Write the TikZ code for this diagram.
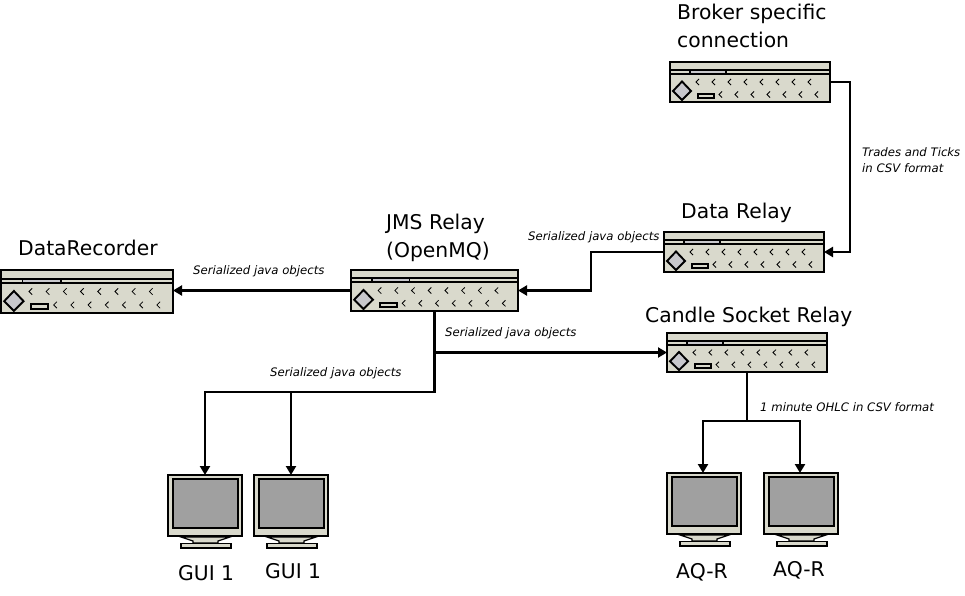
\documentclass[tikz,border=0pt]{standalone}
\usepackage{fontspec}
\setmainfont{DejaVu Sans}
\usetikzlibrary{arrows.meta}
\definecolor{devfill}{HTML}{D9D9CC}
\definecolor{devgrey}{HTML}{C8C8CC}
\definecolor{screengrey}{HTML}{A0A0A0}
\tikzset{
  x=1pt,y=-1pt,
  devbox/.style={draw=black,line width=2.2pt,fill=devfill,inner sep=0pt,outer sep=0pt,rectangle},
  monbox/.style={draw=black,line width=2.2pt,fill=devfill,inner sep=0pt,outer sep=0pt,rectangle,minimum width=74pt,minimum height=61pt},
  part/.style={draw=black,line width=1.9pt},
  chev/.style={draw=black,line width=0.8pt},
  link/.style={draw=black,line width=2.2pt},
  arrowlink/.style={link,-{Triangle[length=9pt,width=10pt]}},
  title/.style={font=\fontsize{20.3pt}{28pt}\selectfont,inner sep=0pt,anchor=base west,align=left},
  note/.style={font=\fontsize{11.7pt}{16pt}\selectfont\itshape,inner sep=0pt,anchor=base west,align=left},
}
% name, left, top, width, height
\newcommand{\router}[5]{%
  \node[devbox,anchor=north west,minimum width=#4pt,minimum height=#5pt] (#1) at (#2,#3) {};
  \begin{scope}[shift={(#2,#3)},xscale=#4/160,yscale=#5/40]
    \fill[devgrey] (20,8) rectangle (56,12);
    \draw[part] (0,8) -- (160,8);
    \draw[part] (0,12) -- (160,12);
    \draw[black,line width=1.5pt] (20,7.5) -- (20,12.5) (56,7.5) -- (56,12.5);
    \draw[part,fill=devgrey] (12,19.5) -- (21,29) -- (12,38) -- (3,29) -- cycle;
    \draw[part,fill=devfill] (28,32) rectangle (44,36);
    \foreach \k in {0,...,7}
      \draw[chev] ({26+16*\k+3},17) -- ({26+16*\k},20) -- ({26+16*\k+3},23);
    \foreach \k in {0,...,6}
      \draw[chev] ({49+16*\k+3},29.5) -- ({49+16*\k},32.5) -- ({49+16*\k+3},35.5);
  \end{scope}}
% name, left, top
\newcommand{\screenunit}[3]{%
  \node[monbox,anchor=north west] (#1) at (#2,#3) {};
  \begin{scope}[shift={(#2,#3)}]
    \draw[part,fill=screengrey] (5,4) rectangle (70,53);
    \draw[black,line width=1.2pt,fill=devfill] (13,62) -- (25,66) -- (25,68) -- (50,68) -- (50,66) -- (62,62) -- cycle;
    \draw[part,fill=devfill] (13,68.5) rectangle (63,73);
  \end{scope}}
\begin{document}
\begin{tikzpicture}
\useasboundingbox (0,0) rectangle (965,595);
\fill[white] (0,0) rectangle (965,595);

\router{broker}{670}{62}{160}{40}
\router{datarelay}{664}{232}{160}{40}
\router{jms}{351}{270}{167}{41}
\router{recorder}{1}{270}{172}{43}
\router{candle}{667}{333}{160}{39}
\screenunit{guia}{168}{475}
\screenunit{guib}{254}{475}
\screenunit{aqa}{667}{473}
\screenunit{aqb}{764}{473}

\node[title] (tbroker) at (677,47) {Broker specific\\connection};
\node[title] (tdata) at (681,218) {Data Relay};
\node[title] (tjms) at (386,257) {JMS Relay\\(OpenMQ)};
\node[title] (trec) at (18,255) {DataRecorder};
\node[title] (tcandle) at (645,322) {Candle Socket Relay};
\node[title] (tg1) at (178,580) {GUI 1};
\node[title] (tg2) at (265,578) {GUI 1};
\node[title] (ta1) at (676,578) {AQ-R};
\node[title] (ta2) at (773,576) {AQ-R};

\node[note] (n1) at (862,172) {Trades and Ticks\\in CSV format};
\node[note] (n2) at (528,240) {Serialized java objects};
\node[note] (n3) at (193,274) {Serialized java objects};
\node[note] (n4) at (445,336) {Serialized java objects};
\node[note] (n5) at (270,376) {Serialized java objects};
\node[note] (n6) at (760,411) {1 minute OHLC in CSV format};

\coordinate (c1) at (850,82);
\coordinate (c2) at (850,252);
\coordinate (c3) at (591,252);
\coordinate (c4) at (591,290.5);
\coordinate (j0) at (434.5,352.5);
\coordinate (j1) at (434.5,392);
\coordinate (j2) at (205,392);
\coordinate (j3) at (291,392);
\coordinate (k0) at (747,421);
\coordinate (k1) at (703,421);
\coordinate (k2) at (800,421);

\draw[arrowlink] (broker.east) -- (c1) -- (c2) -- (datarelay.east);
\draw[arrowlink] (datarelay.west) -- (c3) -- (c4) -- (jms.east);
\draw[arrowlink] (jms.west) -- (jms.west -| recorder.east);
\draw[arrowlink] (j0) -- (candle.west);
\draw[arrowlink] (jms.south) -- (j1) -- (j2) -- (guia.north);
\draw[arrowlink] (j3) -- (guib.north -| j3);
\draw[link] (candle.south) -- (k0);
\draw[arrowlink] (k0) -- (k1) -- (k1 |- aqa.north);
\draw[arrowlink] (k0) -- (k2) -- (k2 |- aqb.north);
\end{tikzpicture}
\end{document}
